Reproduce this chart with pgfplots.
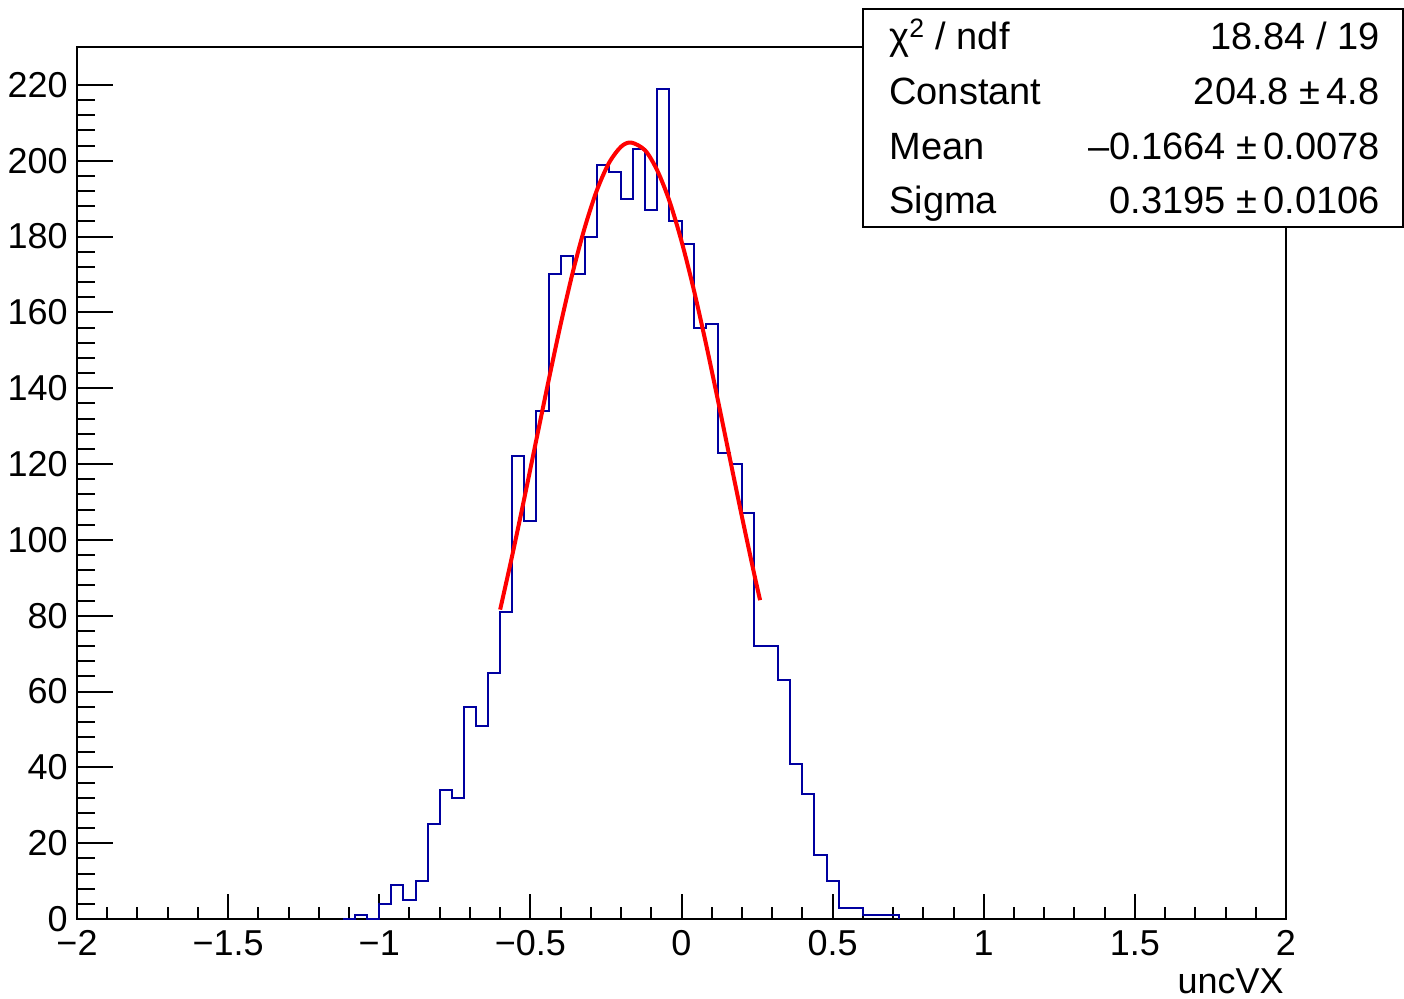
\documentclass[border=0pt]{standalone}
\usepackage{fontspec}
\setmainfont{Liberation Sans}
\usepackage{pgfplots}
\pgfplotsset{compat=1.18}

\definecolor{histblue}{RGB}{0,0,160}

\begin{document}
\fontsize{18}{21}\selectfont
\begin{tikzpicture}
\useasboundingbox (-38.5pt,-39.5pt) rectangle (663.5pt,459.5pt);
% frame, x ticks, histogram and fit
\begin{axis}[
  scale only axis, width=604.5pt, height=436pt,
  xmin=-2, xmax=2, ymin=0, ymax=230,
  axis line style={line width=1pt},
  tick align=inside, xtick pos=bottom, ytick=\empty,
  xtick={-2,-1.5,-1,-0.5,0,0.5,1,1.5,2},
  xticklabels={−2,−1.5,−1,−0.5,0,0.5,1,1.5,2},
  minor x tick num=4,
  major tick length=12.5pt, minor tick length=6pt,
  tick style={line width=1pt, black},
  xticklabel style={anchor=north, inner sep=0pt, yshift=-5.5pt},
]
\addplot[const plot, histblue, line width=1pt] coordinates {
  (-1.12,0) (-1.08,1) (-1.04,0) (-1.00,4) (-0.96,9) (-0.92,5) (-0.88,10)
  (-0.84,25) (-0.80,34) (-0.76,32) (-0.72,56) (-0.68,51) (-0.64,65)
  (-0.60,81) (-0.56,122) (-0.52,105) (-0.48,134) (-0.44,170) (-0.40,175)
  (-0.36,170) (-0.32,180) (-0.28,199) (-0.24,197) (-0.20,190) (-0.16,203)
  (-0.12,187) (-0.08,219) (-0.04,184) (0.00,178) (0.04,156) (0.08,157)
  (0.12,123) (0.16,120) (0.20,107) (0.24,72) (0.28,72) (0.32,63)
  (0.36,41) (0.40,33) (0.44,17) (0.48,10) (0.52,3) (0.56,3)
  (0.60,1) (0.64,1) (0.68,1) (0.72,0)
};
% gaus fit
\addplot[red, line width=2pt, smooth] coordinates {
  (-0.60,81.6) (-0.56,95.9) (-0.52,111.0) (-0.48,126.5) (-0.44,141.9)
  (-0.40,156.8) (-0.36,170.5) (-0.32,182.4) (-0.28,192.2) (-0.24,199.4)
  (-0.20,203.7) (-0.1664,204.8) (-0.12,202.7) (-0.08,197.4) (-0.04,189.4)
  (0.00,178.8) (0.04,166.2) (0.08,152.1) (0.12,137.0) (0.16,121.5)
  (0.20,106.1) (0.24,91.2) (0.26,84.1)
};
\end{axis}
% y ticks (longer than the x ones)
\begin{axis}[
  scale only axis, width=604.5pt, height=436pt,
  xmin=-2, xmax=2, ymin=0, ymax=230,
  axis x line=none, axis y line*=left,
  axis line style={line width=1pt},
  xtick=\empty,
  ytick={0,20,40,60,80,100,120,140,160,180,200,220},
  yticklabels={0,20,40,60,80,100,120,140,160,180,200,220},
  minor y tick num=4, tick align=inside,
  major tick length=18pt, minor tick length=9pt,
  tick style={line width=1pt, black},
  yticklabel style={anchor=east, inner sep=0pt, xshift=-4.5pt},
]
\end{axis}
\node[anchor=base east, inner sep=0pt] at (603.5pt,-37pt) {uncVX};
% stats box
\draw[line width=1pt, fill=white] (393pt,346pt) rectangle (663pt,455pt);
\begin{scope}[every node/.style={inner sep=0pt, font=\fontsize{19}{22}\selectfont}]
\node[anchor=base west] at (406pt,434.5pt) {χ\textsuperscript{2} / ndf};
\node[anchor=base east] at (651.5pt,434.5pt) {18.84 / 19};
\node[anchor=base west] at (406pt,407pt) {Constant};
\node[anchor=base east] at (651.5pt,407pt) {204.8 ±\,4.8};
\node[anchor=base west] at (406pt,379.5pt) {Mean};
\node[anchor=base east] at (651.5pt,379.5pt) {\textendash0.1664 ±\,0.0078};
\node[anchor=base west] at (406pt,352.5pt) {Sigma};
\node[anchor=base east] at (651.5pt,352.5pt) {0.3195 ±\,0.0106};
\end{scope}
\end{tikzpicture}
\end{document}
